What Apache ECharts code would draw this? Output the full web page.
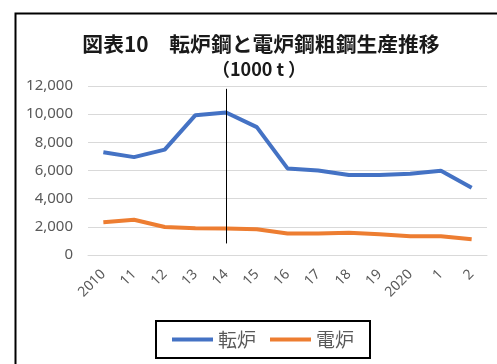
<!DOCTYPE html>
<html>
<head>
<meta charset="utf-8">
<script src="https://cdn.jsdelivr.net/npm/echarts@6/dist/echarts.min.js"></script>
<style>
  html, body { margin: 0; padding: 0; background: #fff; }
  #chart { width: 497px; height: 364px; }
</style>
</head>
<body>
<div id="chart"></div>
<script>
var years = ['2010', '11', '12', '13', '14', '15', '16', '17', '18', '19', '2020', '1', '2'];
// 転炉 (converter), 1000 t
var tenro = [7300, 6950, 7480, 9930, 10120, 9080, 6150, 6000, 5680, 5680, 5770, 5980, 4780];
// 電炉 (electric furnace), 1000 t
var denro = [2330, 2500, 1990, 1900, 1890, 1830, 1520, 1520, 1580, 1480, 1330, 1330, 1120];

var myChart = echarts.init(document.getElementById('chart'));
var labelColor = '#595959';
var cjk = '"Noto Sans CJK JP", "Noto Sans", sans-serif';

myChart.setOption({
	backgroundColor: '#fff',
	animation: false,
	title: [{
		text: '図表10　転炉鋼と電炉鋼粗鋼生産推移',
		left: 256,
		top: 29,
		textAlign: 'center',
		textStyle: {
			fontFamily: cjk,
			fontSize: 20.8,
			fontWeight: 'bold',
			color: '#1a1a1a'
		}
	}, {
		text: '（1000 t ）',
		left: 254,
		top: 55,
		textAlign: 'center',
		textStyle: {
			fontFamily: cjk,
			fontSize: 18,
			fontWeight: 'bold',
			color: '#1a1a1a'
		}
	}],
	graphic: [{
		type: 'rect',
		left: 13,
		top: 11,
		shape: { width: 500, height: 400 },
		style: { fill: 'none', stroke: '#000', lineWidth: 2 },
		z: -1
	}],
	legend: {
		left: 156,
		top: 321,
		padding: [9, 16, 9, 16],
		borderColor: '#000',
		borderWidth: 2,
		icon: 'rect',
		itemWidth: 41,
		itemHeight: 4,
		itemGap: 14,
		textStyle: {
			fontFamily: cjk,
			fontSize: 19,
			color: labelColor
		},
		data: ['転炉', '電炉']
	},
	grid: {
		left: 88,
		right: 10,
		top: 86,
		bottom: 109,
		containLabel: false
	},
	xAxis: {
		type: 'category',
		data: years,
		boundaryGap: true,
		axisLine: { lineStyle: { color: '#d9d9d9', width: 1 } },
		axisTick: { show: false },
		axisLabel: {
			interval: 0,
			rotate: 45,
			margin: 17,
			fontFamily: '"Noto Sans", sans-serif',
			fontSize: 14,
			color: labelColor
		}
	},
	yAxis: {
		type: 'value',
		min: 0,
		max: 12000,
		interval: 2000,
		axisLine: { show: false },
		axisTick: { show: false },
		splitLine: { lineStyle: { color: '#d9d9d9', width: 1 } },
		axisLabel: {
			margin: 15,
			fontFamily: '"Noto Sans", sans-serif',
			fontSize: 15,
			color: labelColor,
			formatter: function (v) {
				return v.toLocaleString('en-US');
			}
		}
	},
	series: [{
		name: '転炉',
		type: 'line',
		data: tenro,
		symbol: 'none',
		color: '#4472C4',
		lineStyle: { width: 4, color: '#4472C4' },
		z: 3,
		markLine: {
			silent: true,
			symbol: ['none', 'none'],
			label: { show: false },
			lineStyle: { color: '#000', width: 1, type: 'solid' },
			data: [[{ coord: ['14', 11800] }, { coord: ['14', 820] }]]
		}
	}, {
		name: '電炉',
		type: 'line',
		data: denro,
		symbol: 'none',
		color: '#ED7D31',
		lineStyle: { width: 4, color: '#ED7D31' },
		z: 2
	}]
});

window.addEventListener('resize', function () {
	myChart.resize();
});
</script>
</body>
</html>
